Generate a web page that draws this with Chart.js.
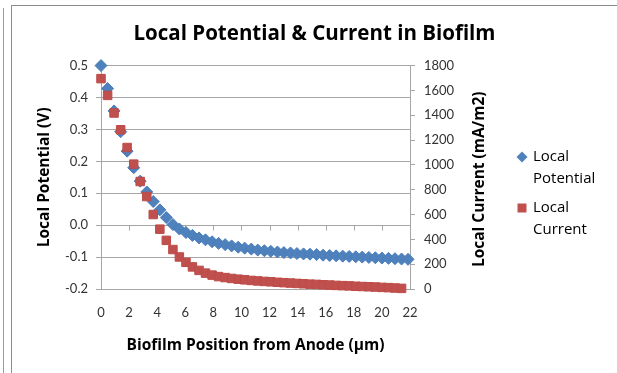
<!DOCTYPE html>
<html>
<head>
<meta charset="utf-8">
<title>Local Potential &amp; Current in Biofilm</title>
<script src="https://cdn.jsdelivr.net/npm/chart.js@4/dist/chart.umd.min.js"></script>
<style>
  html, body { margin: 0; padding: 0; background: #fff; }
  #wrap { position: relative; width: 617px; height: 373px; overflow: hidden; }
  #edge { position: absolute; left: 3px; top: 8px; height: 400px; border-left: 1px solid #9a9a9a; }
  #frame { position: absolute; left: 11px; top: 5px; width: 700px; height: 500px;
           border-left: 1px solid #8c8c8c; border-top: 1px solid #8c8c8c; }
  canvas { position: absolute; left: 0; top: 0; }
</style>
</head>
<body>
<div id="wrap">
  <div id="edge"></div>
  <div id="frame"></div>
  <canvas id="chart" width="617" height="373"></canvas>
</div>
<script>
// Position in the biofilm, measured from the anode (µm)
const positions = [
  0, 0.47, 0.93, 1.40, 1.86, 2.33, 2.79, 3.26, 3.72, 4.19,
  4.65, 5.12, 5.58, 6.05, 6.51, 6.98, 7.44, 7.91, 8.37, 8.84,
  9.30, 9.77, 10.23, 10.70, 11.16, 11.63, 12.09, 12.56, 13.02, 13.49,
  13.95, 14.42, 14.88, 15.35, 15.81, 16.28, 16.74, 17.21, 17.67, 18.14,
  18.60, 19.07, 19.53, 20.00, 20.47, 20.93, 21.40, 21.86
];

// Local potential (V), left axis
const localPotential = [
  0.500, 0.428, 0.358, 0.293, 0.232, 0.180, 0.138, 0.104, 0.074, 0.048,
  0.024, 0.002, -0.012, -0.023, -0.032, -0.040, -0.046, -0.052, -0.057, -0.061,
  -0.065, -0.069, -0.072, -0.075, -0.078, -0.080, -0.082, -0.084, -0.086, -0.087,
  -0.089, -0.090, -0.091, -0.092, -0.094, -0.095, -0.096, -0.097, -0.098, -0.099,
  -0.100, -0.101, -0.102, -0.103, -0.104, -0.105, -0.106, -0.107
];

// Local current (mA/m2), right axis
const localCurrent = [
  1695, 1560, 1418, 1283, 1140, 1006, 866, 745, 600, 482,
  392, 318, 258, 215, 178, 150, 128, 112, 100, 92,
  85, 79, 74, 69, 65, 61, 58, 54, 51, 48,
  45, 42, 39, 37, 34, 32, 29, 27, 25, 22,
  20, 18, 16, 13, 11, 8, 5
];

const seriesNames = ['Local Potential', 'Local Current'];
const chartTitle = 'Local Potential & Current in Biofilm';
const xTitle = 'Biofilm Position from Anode (µm)';
const yLeftTitle = 'Local Potential (V)';
const yRightTitle = 'Local Current (mA/m2)';

const TICK_FONT = 'Lato, "Open Sans", sans-serif';
const TEXT_FONT = '"Open Sans", Lato, sans-serif';
const GRID = '#a6a6a6';
const BLUE = '#4F81BD';
const RED = '#C0504D';

const toPoints = (vals) => vals.map((v, i) => ({ x: positions[i], y: v }));

// Horizontal axis line crossing at 0 V, with tick marks below it
const zeroAxis = {
  id: 'zeroAxis',
  beforeDatasetsDraw(chart) {
    const { ctx, chartArea, scales } = chart;
    const y = Math.round(scales.yV.getPixelForValue(0)) + 0.5;
    ctx.save();
    ctx.strokeStyle = GRID;
    ctx.lineWidth = 1;
    ctx.beginPath();
    ctx.moveTo(chartArea.left, y);
    ctx.lineTo(chartArea.right, y);
    scales.x.ticks.forEach(t => {
      const x = Math.round(scales.x.getPixelForValue(t.value)) + 0.5;
      ctx.moveTo(x, y);
      ctx.lineTo(x, y + 5);
    });
    ctx.stroke();
    ctx.restore();
  }
};

// Right axis title (reads bottom to top) and the two-line legend
const sideText = {
  id: 'sideText',
  afterDraw(chart) {
    const { ctx, chartArea } = chart;
    ctx.save();
    ctx.fillStyle = '#000';
    ctx.font = 'bold 15.5px ' + TEXT_FONT;
    ctx.textAlign = 'center';
    ctx.textBaseline = 'middle';
    ctx.translate(480, (chartArea.top + chartArea.bottom) / 2 + 2);
    ctx.rotate(-Math.PI / 2);
    ctx.fillText(yRightTitle, 0, 0);
    ctx.restore();

    const rows = [157, 208];
    ctx.save();
    ctx.font = '15px ' + TEXT_FONT;
    ctx.textAlign = 'left';
    ctx.textBaseline = 'middle';
    chart.data.datasets.forEach((ds, i) => {
      const cy = rows[i];
      const cx = 522;
      ctx.fillStyle = ds.backgroundColor;
      ctx.beginPath();
      if (ds.pointStyle === 'rectRot') {
        ctx.moveTo(cx, cy - 5.5);
        ctx.lineTo(cx + 5.5, cy);
        ctx.lineTo(cx, cy + 5.5);
        ctx.lineTo(cx - 5.5, cy);
        ctx.closePath();
      } else {
        ctx.rect(cx - 4.5, cy - 4.5, 9, 9);
      }
      ctx.fill();
      ctx.fillStyle = '#000';
      ds.label.split(' ').forEach((word, k) => {
        ctx.fillText(word, 533, cy + k * 22);
      });
    });
    ctx.restore();
  }
};

new Chart(document.getElementById('chart'), {
  type: 'scatter',
  data: {
    datasets: [
      {
        label: seriesNames[0],
        data: toPoints(localPotential),
        yAxisID: 'yV',
        pointStyle: 'rectRot',
        pointRadius: 6,
        backgroundColor: BLUE,
        borderColor: '#4A7EBB',
        borderWidth: 1,
        clip: false,
        order: 1
      },
      {
        label: seriesNames[1],
        data: toPoints(localCurrent),
        yAxisID: 'yI',
        pointStyle: 'rect',
        pointRadius: 6,
        backgroundColor: RED,
        borderColor: '#BE4B48',
        borderWidth: 1,
        clip: false,
        order: 0
      }
    ]
  },
  options: {
    responsive: false,
    animation: false,
    layout: { padding: { left: 12, top: 10, right: 0, bottom: 0 } },
    plugins: {
      legend: { display: false },
      tooltip: { enabled: false },
      title: {
        display: true,
        text: chartTitle,
        color: '#000',
        font: { family: TEXT_FONT, size: 20.5, weight: 'bold', lineHeight: 1.2 },
        padding: { top: 12, bottom: 19 }
      }
    },
    scales: {
      x: {
        type: 'linear',
        position: 'bottom',
        min: 0,
        max: 22,
        offset: false,
        afterFit(s) { s.height = 84; },
        grid: { display: false, drawTicks: false },
        border: { display: false },
        ticks: {
          stepSize: 2,
          autoSkip: false,
          maxRotation: 0,
          padding: 16,
          color: '#333',
          font: { family: TICK_FONT, size: 13 }
        },
        title: {
          display: true,
          text: xTitle,
          color: '#000',
          font: { family: TEXT_FONT, size: 15.5, weight: 'bold', lineHeight: 1.2 },
          padding: { top: 0, bottom: 18 }
        }
      },
      yV: {
        type: 'linear',
        position: 'left',
        min: -0.2,
        max: 0.5,
        afterFit(s) { s.width = 89; },
        grid: { color: GRID, lineWidth: 1, drawTicks: true, tickLength: 5 },
        border: { display: true, color: GRID },
        ticks: {
          stepSize: 0.1,
          padding: 8,
          color: '#333',
          font: { family: TICK_FONT, size: 13 },
          callback: (v) => (Math.abs(v) < 1e-9 ? 0 : v).toFixed(1)
        },
        title: {
          display: true,
          text: yLeftTitle,
          color: '#000',
          font: { family: TEXT_FONT, size: 15.5, weight: 'bold', lineHeight: 1.2 },
          padding: { top: 23, bottom: 0 }
        }
      },
      yI: {
        type: 'linear',
        position: 'right',
        min: 0,
        max: 1800,
        afterFit(s) { s.width = 207; },
        grid: { drawOnChartArea: false, color: GRID, drawTicks: true, tickLength: 5 },
        border: { display: true, color: GRID },
        ticks: {
          stepSize: 200,
          padding: 9,
          color: '#333',
          font: { family: TICK_FONT, size: 13 },
          callback: (v) => String(v)
        },
        title: { display: false }
      }
    }
  },
  plugins: [zeroAxis, sideText]
});
</script>
</body>
</html>
